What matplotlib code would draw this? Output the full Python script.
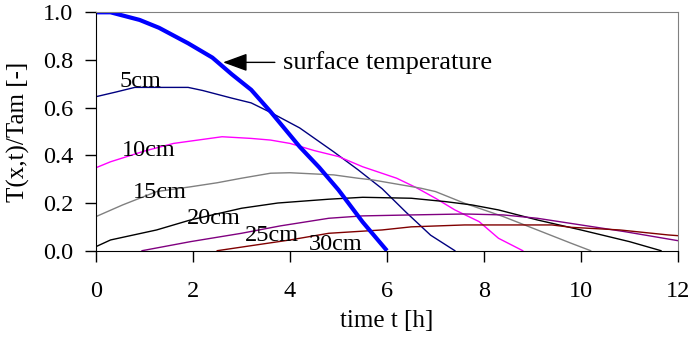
import matplotlib
matplotlib.use("Agg")
import matplotlib.pyplot as plt

plt.rcParams["font.family"] = ["Liberation Serif", "DejaVu Serif"]
plt.rcParams["font.size"] = 17.5

# surface temperature
t_surf = [0, 0.3, 0.9, 1.3, 1.9, 2.4, 2.8, 3.2, 3.6, 4.2, 4.6, 5.0, 5.5, 6.0]
y_surf = [1.0, 1.0, 0.968, 0.935, 0.87, 0.81, 0.74, 0.675, 0.583, 0.436,
          0.35, 0.255, 0.12, 0.0]

# depth curves
t_5 = [0, 0.4, 0.8, 1.9, 2.2, 2.8, 3.2, 3.6, 4.2, 4.9, 5.4, 5.9, 6.4, 6.9, 7.4]
y_5 = [0.646, 0.665, 0.685, 0.685, 0.672, 0.64, 0.62, 0.58, 0.515, 0.415,
       0.34, 0.26, 0.16, 0.065, 0.0]

t_10 = [0, 0.3, 1.0, 1.6, 2.1, 2.6, 3.2, 3.6, 4.0, 4.5, 5.0, 5.5, 6.2, 6.6,
        7.0, 7.4, 7.9, 8.3, 8.8]
y_10 = [0.348, 0.373, 0.418, 0.45, 0.464, 0.478, 0.471, 0.464, 0.45, 0.42,
        0.395, 0.352, 0.304, 0.265, 0.22, 0.171, 0.122, 0.052, 0.0]

t_15 = [0, 0.55, 1.25, 1.95, 2.5, 3.0, 3.6, 4.0, 4.9, 5.4, 5.7, 6.3, 6.7,
        7.0, 7.6, 8.4, 9.1, 9.8, 10.2]
y_15 = [0.143, 0.192, 0.248, 0.268, 0.285, 0.304, 0.325, 0.327, 0.318,
        0.304, 0.297, 0.276, 0.262, 0.248, 0.199, 0.143, 0.087, 0.031, 0.0]

t_20 = [0, 0.3, 1.25, 1.95, 3.0, 3.75, 4.8, 5.5, 6.5, 7.2, 7.75, 8.3, 9.1,
        10.0, 11.0, 11.65]
y_20 = [0.017, 0.045, 0.087, 0.129, 0.178, 0.2, 0.216, 0.224, 0.22, 0.206,
        0.192, 0.171, 0.129, 0.087, 0.038, 0.0]

t_25 = [0.95, 1.95, 3.0, 3.8, 4.8, 5.5, 6.5, 7.6, 8.4, 9.1, 10.0, 10.9, 12.0]
y_25 = [0.0, 0.038, 0.073, 0.104, 0.136, 0.146, 0.15, 0.154, 0.15, 0.136,
        0.108, 0.08, 0.042]

t_30 = [2.5, 3.0, 4.0, 4.8, 5.9, 6.5, 7.6, 9.4, 9.8, 10.8, 11.8, 12.0]
y_30 = [0.0, 0.015, 0.045, 0.073, 0.087, 0.10, 0.108, 0.108, 0.098, 0.087,
        0.066, 0.063]

depth_labels = ["5cm", "10cm", "15cm", "20cm", "25cm", "30cm"]
label_x = [0.49, 0.53, 0.77, 1.87, 3.07, 4.38]
label_y = [0.688, 0.397, 0.22, 0.112, 0.042, 0.003]

fig = plt.figure(figsize=(6.92, 3.39), dpi=100)
ax = fig.add_axes([0.1387, 0.2605, 0.841, 0.7032])

ax.plot(t_5, y_5, color="#000080", lw=1.0)
ax.plot(t_10, y_10, color="#FF00FF", lw=1.0)
ax.plot(t_15, y_15, color="#808080", lw=1.0)
ax.plot(t_20, y_20, color="#000000", lw=1.0)
ax.plot(t_25, y_25, color="#800080", lw=1.0)
ax.plot(t_30, y_30, color="#800000", lw=1.0)
ax.plot(t_surf, y_surf, color="#0000FF", lw=3.0, solid_capstyle="butt")

for lab, lx, ly in zip(depth_labels, label_x, label_y):
    ax.text(lx, ly, lab, ha="left", va="baseline", clip_on=False)

ax.annotate("surface temperature", xy=(2.62, 0.79), xytext=(3.86, 0.79),
            va="center", ha="left", fontsize=19,
            arrowprops=dict(arrowstyle="-|>,head_length=0.6,head_width=0.22",
                            color="black", lw=1.0,
                            mutation_scale=25, shrinkA=4, shrinkB=0))

ax.set_xlim(0, 12)
ax.set_ylim(0, 1.0)
ax.set_xticks(range(0, 13, 2))
ax.set_yticks([0.0, 0.2, 0.4, 0.6, 0.8, 1.0])
ax.set_yticklabels(["%.1f" % v for v in [0.0, 0.2, 0.4, 0.6, 0.8, 1.0]])
ax.tick_params(axis="x", direction="out", length=8, width=1, pad=14)
ax.tick_params(axis="y", direction="out", length=8, width=1, pad=8.5)

ax.spines["top"].set_color("#808080")
ax.spines["right"].set_color("#808080")
for s in ["left", "bottom"]:
    ax.spines[s].set_color("black")

ax.set_xlabel("time t [h]", fontsize=18)
ax.xaxis.set_label_coords(0.5, -0.25)
ax.set_ylabel("T(x,t)/Tam [-]", fontsize=18)
ax.yaxis.set_label_coords(-0.113, 0.5)

fig.savefig("out.png", dpi=100)
